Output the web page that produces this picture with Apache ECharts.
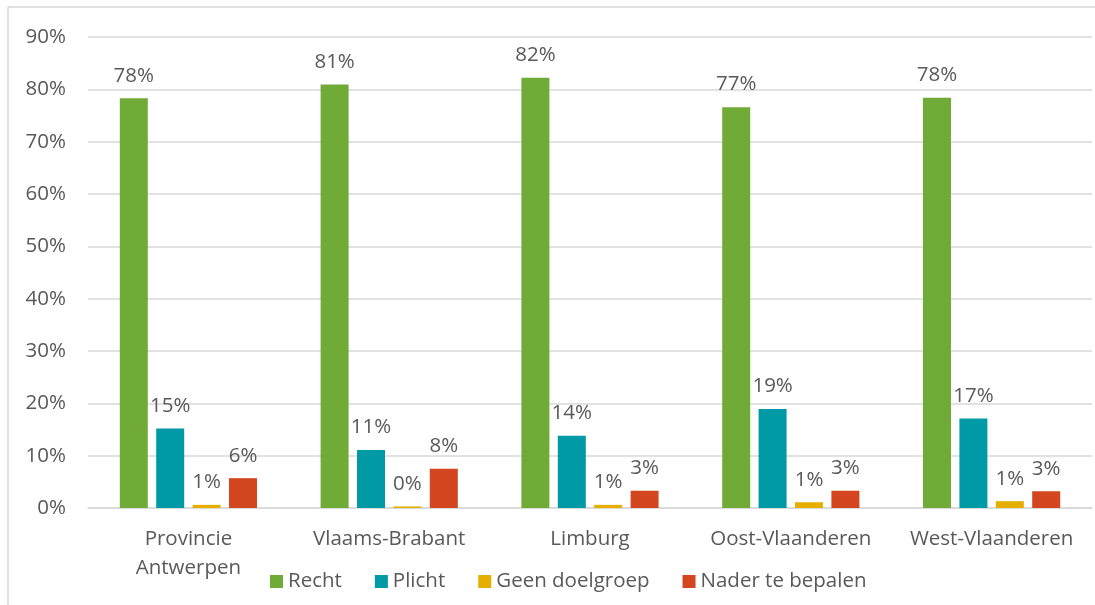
<!DOCTYPE html>
<html>
<head>
<meta charset="utf-8">
<script src="https://cdn.jsdelivr.net/npm/echarts@6/dist/echarts.min.js"></script>
<style>
  html, body { margin: 0; padding: 0; background: #fff; }
  #chart { width: 1095px; height: 605px; }
</style>
</head>
<body>
<div id="chart"></div>
<script>
const categories = ['Provincie\nAntwerpen', 'Vlaams-Brabant', 'Limburg', 'Oost-Vlaanderen', 'West-Vlaanderen']
const seriesNames = ['Recht', 'Plicht', 'Geen doelgroep', 'Nader te bepalen']
const recht = [78.3, 80.9, 82.2, 76.6, 78.4]
const plicht = [15.2, 11.1, 13.8, 18.9, 17.1]
const geenDoelgroep = [0.6, 0.3, 0.6, 1.1, 1.3]
const naderTeBepalen = [5.7, 7.5, 3.3, 3.3, 3.2]
const colors = ['#70ab37', '#009aa6', '#e5ae00', '#d4461f']

const textColor = '#595959'
const fontFamily = '"Open Sans", "DejaVu Sans", sans-serif'
const fontSize = 20.5

const chart = echarts.init(document.getElementById('chart'))

function barSeries(name, data, color) {
  return {
    name,
    type: 'bar',
    data,
    barWidth: 28,
    barGap: '30%',
    itemStyle: { color },
    label: {
      show: true,
      position: 'top',
      distance: 12,
      color: textColor,
      fontSize,
      fontFamily,
      formatter: p => Math.round(p.value) + '%'
    }
  }
}

chart.setOption({
  animation: false,
  grid: { left: 88, right: 3, top: 37, bottom: 97 },
  graphic: [{
    type: 'rect',
    shape: { x: 8, y: 7, width: 1100, height: 610 },
    style: { fill: 'none', stroke: '#c4c4c4', lineWidth: 1 },
    silent: true
  }],
  legend: {
    data: seriesNames,
    left: 265,
    top: 566,
    itemWidth: 13,
    itemHeight: 13,
    itemGap: 33,
    icon: 'rect',
    textStyle: { color: textColor, fontSize, fontFamily }
  },
  xAxis: {
    type: 'category',
    data: categories,
    axisLine: { lineStyle: { color: '#d9d9d9', width: 1.5 } },
    axisTick: { show: false },
    axisLabel: {
      interval: 0,
      color: textColor,
      fontSize,
      fontFamily,
      margin: 17,
      lineHeight: 29
    }
  },
  yAxis: {
    type: 'value',
    min: 0,
    max: 90,
    interval: 10,
    axisLine: { show: false },
    axisTick: { show: false },
    splitLine: { lineStyle: { color: '#d9d9d9', width: 1.5 } },
    axisLabel: {
      color: textColor,
      fontSize,
      fontFamily,
      margin: 22,
      formatter: '{value}%'
    }
  },
  series: [
    barSeries(seriesNames[0], recht, colors[0]),
    barSeries(seriesNames[1], plicht, colors[1]),
    barSeries(seriesNames[2], geenDoelgroep, colors[2]),
    barSeries(seriesNames[3], naderTeBepalen, colors[3])
  ]
})
</script>
</body>
</html>
